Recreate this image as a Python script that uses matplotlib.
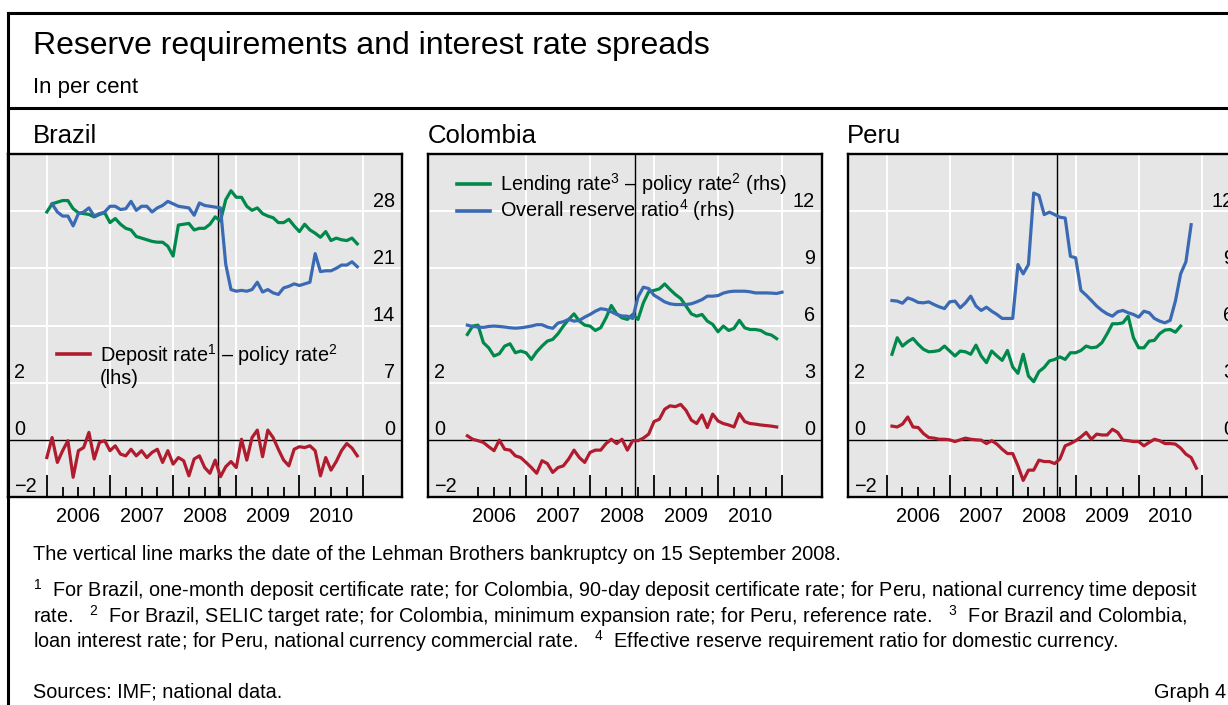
import matplotlib
matplotlib.use('Agg')
import matplotlib.pyplot as plt
import numpy as np
from matplotlib.lines import Line2D
from matplotlib import transforms as mtransforms

plt.rcParams['font.family'] = ['Liberation Sans', 'DejaVu Sans']
plt.rcParams['mathtext.fontset'] = 'custom'
plt.rcParams['mathtext.rm'] = 'Liberation Sans'
plt.rcParams['mathtext.it'] = 'Liberation Sans:italic'
plt.rcParams['mathtext.bf'] = 'Liberation Sans:bold'

# ---- data (monthly, per cent) ----
# Brazil: spread and lending rate from Jan 2006, reserve ratio from Feb 2006
brazil_deposit = [-0.62, 0.08, -0.79, -0.38, -0.03, -1.31, -0.38, -0.27, 0.26, -0.67,
                  -0.09, -0.03, -0.38, -0.21, -0.50, -0.56, -0.33, -0.56, -0.38, -0.62,
                  -0.44, -0.33, -0.79, -0.38, -0.85, -0.62, -0.73, -1.26, -0.67, -0.56,
                  -0.97, -1.17, -0.71, -1.29, -0.94, -0.76, -0.97, 0.02, -0.71, 0.08,
                  0.34, -0.59, 0.34, 0.08, -0.33, -0.71, -0.91, -0.33, -0.24, -0.27,
                  -0.21, -0.38, -1.26, -0.62, -1.06, -0.76, -0.38, -0.13, -0.29, -0.56]
brazil_lending = [27.9, 28.9, 29.1, 29.3, 29.3, 28.3, 27.8, 27.7, 27.6, 27.3,
                  27.6, 27.8, 26.6, 27.1, 26.4, 25.9, 25.7, 24.9, 24.7, 24.5,
                  24.3, 24.2, 24.2, 23.7, 22.5, 26.3, 26.4, 26.5, 25.7, 25.9,
                  25.9, 26.4, 27.3, 26.8, 29.4, 30.5, 29.7, 29.7, 28.6, 28.1,
                  28.4, 27.7, 27.4, 27.2, 26.6, 26.6, 27.0, 26.2, 25.5, 26.4,
                  25.7, 25.3, 24.8, 25.5, 24.4, 24.7, 24.5, 24.4, 24.7, 24.0]
brazil_reserve = [28.9, 27.9, 27.4, 27.4, 26.2, 27.7, 27.9, 28.4, 27.4, 27.7,
                  27.9, 28.6, 28.6, 28.2, 28.3, 29.2, 28.1, 28.6, 28.6, 27.9,
                  28.4, 28.7, 29.2, 28.9, 28.6, 28.5, 28.4, 27.5, 29.0, 28.7,
                  28.6, 28.5, 28.4, 21.5, 18.4, 18.2, 18.3, 18.2, 18.4, 19.3,
                  18.1, 18.4, 18.0, 17.8, 18.6, 18.8, 19.1, 18.9, 19.1, 19.3,
                  22.8, 20.6, 20.7, 20.7, 21.0, 21.4, 21.4, 21.8, 21.2]

# Colombia: all series from Feb 2006
colombia_deposit = [0.14, 0.02, -0.03, -0.09, -0.24, -0.38, -0.01, -0.33, -0.36, -0.56,
                    -0.62, -0.79, -0.97, -1.17, -0.73, -0.83, -1.14, -0.97, -0.91, -0.67,
                    -0.36, -0.62, -0.79, -0.44, -0.36, -0.36, -0.13, 0.02, -0.13, 0.02,
                    -0.36, -0.03, -0.03, 0.06, 0.20, 0.64, 0.72, 1.07, 1.19, 1.16,
                    1.24, 1.03, 0.69, 0.57, 0.87, 0.43, 0.90, 0.66, 0.57, 0.52,
                    0.45, 0.92, 0.64, 0.57, 0.55, 0.52, 0.50, 0.48, 0.45]
colombia_lending = [5.53, 5.97, 6.02, 5.10, 4.83, 4.40, 4.52, 4.92, 5.04, 4.57,
                    4.66, 4.57, 4.22, 4.62, 4.92, 5.18, 5.27, 5.57, 5.97, 6.32,
                    6.61, 6.23, 6.02, 5.97, 5.74, 5.88, 6.40, 7.05, 6.61, 6.40,
                    6.32, 6.58, 6.32, 7.19, 7.77, 7.84, 7.92, 8.18, 7.89, 7.63,
                    7.42, 7.02, 6.61, 6.49, 6.58, 6.23, 6.06, 5.67, 5.97, 5.74,
                    5.85, 6.27, 5.88, 5.79, 5.79, 5.74, 5.57, 5.50, 5.31]
colombia_reserve = [6.02, 5.95, 5.92, 5.90, 5.95, 5.97, 5.95, 5.92, 5.88, 5.86,
                    5.88, 5.92, 5.97, 6.04, 6.04, 5.92, 5.85, 6.13, 6.20, 6.32,
                    6.23, 6.27, 6.44, 6.58, 6.75, 6.88, 6.84, 6.72, 6.58, 6.50,
                    6.49, 6.37, 7.50, 8.01, 7.94, 7.59, 7.42, 7.24, 7.14, 7.10,
                    7.10, 7.10, 7.14, 7.24, 7.36, 7.54, 7.54, 7.57, 7.70, 7.77,
                    7.80, 7.80, 7.80, 7.77, 7.71, 7.71, 7.71, 7.70, 7.68, 7.75]

# Peru: all series from Feb 2006
peru_deposit = [0.48, 0.45, 0.55, 0.80, 0.45, 0.43, 0.22, 0.08, 0.06, 0.02,
                0.02, 0.00, -0.06, 0.00, 0.06, 0.02, 0.00, -0.01, -0.13, -0.03,
                -0.15, -0.33, -0.48, -0.48, -0.91, -1.42, -1.06, -1.06, -0.71, -0.76,
                -0.76, -0.83, -0.67, -0.21, -0.13, -0.03, 0.10, 0.26, 0.02, 0.20,
                0.17, 0.17, 0.37, 0.26, -0.01, -0.03, -0.06, -0.06, -0.21, -0.09,
                0.02, -0.03, -0.13, -0.13, -0.15, -0.29, -0.50, -0.62, -0.99]
peru_lending = [4.49, 5.36, 4.92, 5.15, 5.32, 5.01, 4.75, 4.62, 4.64, 4.69,
                4.92, 4.66, 4.40, 4.66, 4.62, 4.49, 4.97, 4.40, 4.05, 4.66,
                4.40, 4.17, 4.69, 3.82, 3.49, 4.49, 3.35, 3.05, 3.58, 3.80,
                4.14, 4.22, 4.35, 4.22, 4.57, 4.57, 4.69, 4.92, 4.83, 4.87,
                5.10, 5.57, 6.09, 6.09, 6.14, 6.49, 5.36, 4.83, 4.83, 5.18,
                5.22, 5.57, 5.76, 5.79, 5.65, 5.97]
peru_reserve = [7.31, 7.28, 7.17, 7.45, 7.35, 7.21, 7.19, 7.24, 7.10, 6.98,
                6.89, 7.24, 7.28, 6.93, 7.19, 7.54, 7.02, 6.79, 6.96, 6.75,
                6.58, 6.37, 6.37, 6.37, 9.20, 8.71, 9.20, 12.95, 12.83, 11.82,
                11.95, 11.82, 11.68, 11.64, 9.63, 9.55, 7.84, 7.59, 7.31, 7.02,
                6.79, 6.61, 6.49, 6.72, 6.79, 6.67, 6.58, 6.44, 6.75, 6.67,
                6.37, 6.23, 6.14, 6.27, 7.28, 8.71, 9.34, 11.29]

years = [2006, 2007, 2008, 2009, 2010]
lehman = 2008 + 258 / 366   # 15 September 2008

RED = '#b01c2e'
GREEN = '#00894a'
BLUE = '#3a6ab4'
BG = '#e6e6e6'

W, H = 1228, 705
fig = plt.figure(figsize=(W / 100, H / 100), dpi=100)
fig.patch.set_facecolor('white')


def fx(px):
    return px / W


def fy(py):
    return 1 - py / H


def monthly(start, values):
    return start + np.arange(len(values)) / 12


FEB06 = 2006 + 1 / 12
panels = [
    dict(name='Brazil', left=8, right=402, title_x=33, xstart=2006 - 0.615,
         rhs=(-7, 35), rhs_ticks=[0, 7, 14, 21, 28], year_ticks=[2006, 2007, 2008, 2009, 2010, 2011],
         red=(2006.0, brazil_deposit), green=(2006.0, brazil_lending), blue=(FEB06, brazil_reserve)),
    dict(name='Colombia', left=428, right=822, title_x=428, xstart=FEB06 - 0.615,
         rhs=(-3, 15), rhs_ticks=[0, 3, 6, 9, 12], year_ticks=[2007, 2008, 2009, 2010, 2011],
         red=(FEB06, colombia_deposit), green=(FEB06, colombia_lending), blue=(FEB06, colombia_reserve)),
    dict(name='Peru', left=848, right=1241, title_x=847, xstart=2006 - 0.615,
         rhs=(-3, 15), rhs_ticks=[0, 3, 6, 9, 12], year_ticks=[2006, 2007, 2008, 2009, 2010, 2011],
         red=(FEB06, peru_deposit), green=(FEB06, peru_lending), blue=(FEB06, peru_reserve)),
]

TOP, BOTTOM = 154, 497
quarters = [y + q / 4 for y in years for q in (1, 2, 3)]
PFS = 14.3

for p in panels:
    ax = fig.add_axes([fx(p['left']), fy(BOTTOM), fx(p['right'] - p['left']), (BOTTOM - TOP) / H])
    ax.set_facecolor(BG)
    ax.set_xlim(p['xstart'], 2011.625)
    ax.set_ylim(-2, 10)
    ax2 = ax.twinx()
    ax2.set_ylim(*p['rhs'])
    ax2.set_yticks([])
    for s in ax2.spines.values():
        s.set_visible(False)
    for s in ax.spines.values():
        s.set_linewidth(1.7)
        s.set_color('black')

    # grid: horizontal lines shared by both scales, vertical lines at year starts
    ax.set_yticks([2, 4, 6, 8])
    ax.set_xticks(p['year_ticks'])
    ax.set_xticks(quarters, minor=True)
    ax.grid(True, which='major', color='white', linewidth=1.4)
    ax.set_axisbelow(True)
    ax.tick_params(axis='y', length=0, labelleft=False)
    ax.tick_params(axis='x', which='major', direction='in', length=16, width=1.3,
                   color='black', labelbottom=False)
    ax.tick_params(axis='x', which='minor', direction='in', length=7.5, width=1.3,
                   color='black', labelbottom=False)

    ax.axhline(0, color='black', linewidth=1.0, zorder=1.5)
    ax.axvline(lehman, color='black', linewidth=1.0, zorder=1.5)

    xs, ys = p['red']
    ax.plot(monthly(xs, ys), ys, color=RED, linewidth=2.3, zorder=3)
    xs, ys = p['green']
    ax2.plot(monthly(xs, ys), ys, color=GREEN, linewidth=2.3, zorder=3)
    xs, ys = p['blue']
    ax2.plot(monthly(xs, ys), ys, color=BLUE, linewidth=2.3, zorder=3)

    # value labels sit just above their grid lines, inside the panel
    lt = mtransforms.offset_copy(ax.get_yaxis_transform(), fig=fig, x=6, y=4.5, units='dots')
    for v, lab in [(2, '2'), (0, '0'), (-2, '\u22122')]:
        ax.text(0, v, lab, transform=lt, ha='left', va='baseline', fontsize=PFS)
    rt = mtransforms.offset_copy(ax2.get_yaxis_transform(), fig=fig, x=-7, y=4.5, units='dots')
    for v in p['rhs_ticks']:
        ax2.text(1, v, str(v), transform=rt, ha='right', va='baseline', fontsize=PFS)

    for y in years:
        ax.text(y + 0.5, -25 / (BOTTOM - TOP), str(y), transform=ax.get_xaxis_transform(),
                ha='center', va='baseline', fontsize=PFS, clip_on=False)

    fig.text(fx(p['title_x']), fy(142.7), p['name'], fontsize=18.5, va='baseline')

# legends
def key(x0, x1, y, color):
    fig.add_artist(Line2D([fx(x0), fx(x1)], [fy(y), fy(y)], color=color, linewidth=2.6))


key(57, 90, 354, RED)
fig.text(fx(100), fy(362), 'Deposit rate$^1$ \u2013 policy rate$^2$', fontsize=PFS, va='baseline')
fig.text(fx(100), fy(384), '(lhs)', fontsize=PFS, va='baseline')
key(457, 490, 184, GREEN)
fig.text(fx(500), fy(190.5), 'Lending rate$^3$ \u2013 policy rate$^2$ (rhs)', fontsize=PFS, va='baseline')
key(457, 490, 211, BLUE)
fig.text(fx(500), fy(216.5), 'Overall reserve ratio$^4$ (rhs)', fontsize=PFS, va='baseline')

# frame and header
for xs_, ys_ in [([7.5, 7.5], [12.7, H]), ([7.5, W], [12.7, 12.7]), ([7.5, W], [107.7, 107.7])]:
    fig.add_artist(Line2D([fx(v) for v in xs_], [fy(v) for v in ys_], color='black', linewidth=2.2))

fig.text(fx(33), fy(54), 'Reserve requirements and interest rate spreads', fontsize=23, va='baseline')
fig.text(fx(33), fy(92.7), 'In per cent', fontsize=16, va='baseline')

# footer
FS = 14.3
fig.text(fx(33), fy(560), 'The vertical line marks the date of the Lehman Brothers bankruptcy on 15 September 2008.',
         fontsize=FS, va='baseline')
fig.text(fx(33), fy(597), '${}^1$  For Brazil, one-month deposit certificate rate; for Colombia, 90-day deposit '
         'certificate rate; for Peru, national currency time deposit', fontsize=FS, va='baseline')
fig.text(fx(33), fy(622.7), 'rate.   ${}^2$  For Brazil, SELIC target rate; for Colombia, minimum expansion rate; '
         'for Peru, reference rate.   ${}^3$  For Brazil and Colombia,', fontsize=FS, va='baseline')
fig.text(fx(33), fy(648.3), 'loan interest rate; for Peru, national currency commercial rate.   ${}^4$  Effective '
         'reserve requirement ratio for domestic currency.', fontsize=FS, va='baseline')
fig.text(fx(33), fy(698), 'Sources: IMF; national data.', fontsize=FS, va='baseline')
fig.text(fx(1226), fy(698), 'Graph 4', fontsize=FS, va='baseline', ha='right')

fig.savefig('out.png', dpi=100, facecolor='white')
